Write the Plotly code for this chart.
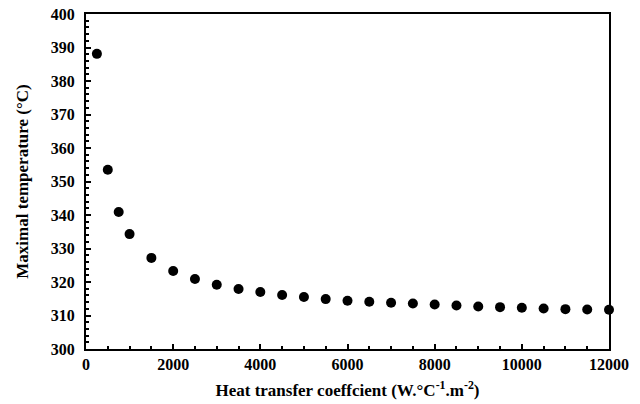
import plotly.graph_objects as go

# Heat transfer coefficient (W.°C-1.m-2) and resulting maximal temperature (°C)
h_coeff = [250, 500, 750, 1000, 1500, 2000, 2500, 3000, 3500, 4000, 4500, 5000,
           5500, 6000, 6500, 7000, 7500, 8000, 8500, 9000, 9500, 10000, 10500,
           11000, 11500, 12000]
t_max = [388.1, 353.5, 340.9, 334.3, 327.2, 323.3, 320.9, 319.2, 317.9, 317.0,
         316.1, 315.5, 314.9, 314.4, 314.1, 313.8, 313.6, 313.3, 313.0, 312.7,
         312.5, 312.3, 312.1, 311.9, 311.8, 311.7]

x_ticks = [0, 2000, 4000, 6000, 8000, 10000, 12000]
x_labels = ["0", "2000", "4000", "6000", "8000", "10000", "12000"]
y_ticks = [300, 310, 320, 330, 340, 350, 360, 370, 380, 390, 400]
y_labels = ["300", "310", "320", "330", "340", "350", "360", "370", "380", "390", "400"]

FONT = "Liberation Serif"

fig = go.Figure(
    go.Scatter(
        x=h_coeff,
        y=t_max,
        mode="markers",
        marker=dict(color="black", size=10),
        cliponaxis=False,
        showlegend=False,
    )
)

axis_common = dict(
    showline=True,
    linecolor="black",
    linewidth=2,
    mirror=True,
    showgrid=False,
    zeroline=False,
    automargin=False,
    ticks="inside",
    ticklen=5,
    tickwidth=1.5,
    tickcolor="black",
    tickfont=dict(family=FONT, size=16, color="black", weight=700),
)

fig.update_xaxes(
    range=[0, 12000],
    tickmode="array",
    tickvals=x_ticks,
    ticktext=x_labels,
    minor=dict(dtick=500, ticks="inside", ticklen=3, tickwidth=1.5, tickcolor="black"),
    title=dict(
        text="Heat transfer coeffcient (W.°C<sup>-1</sup>.m<sup>-2</sup>)",
        font=dict(family=FONT, size=17, color="black", weight=700),
        standoff=12,
    ),
    **axis_common,
)

fig.update_yaxes(
    range=[300, 400],
    tickmode="array",
    tickvals=y_ticks,
    ticktext=y_labels,
    minor=dict(dtick=2, ticks="inside", ticklen=3, tickwidth=1.5, tickcolor="black"),
    ticklabelstandoff=6,
    title=dict(
        text="Maximal temperature (°C)",
        font=dict(family=FONT, size=17, color="black", weight=700),
        standoff=18,
    ),
    **axis_common,
)

fig.update_layout(
    width=640,
    height=404,
    margin=dict(l=86, r=31, t=14, b=55),
    paper_bgcolor="white",
    plot_bgcolor="white",
)

fig.write_html("out.html")
